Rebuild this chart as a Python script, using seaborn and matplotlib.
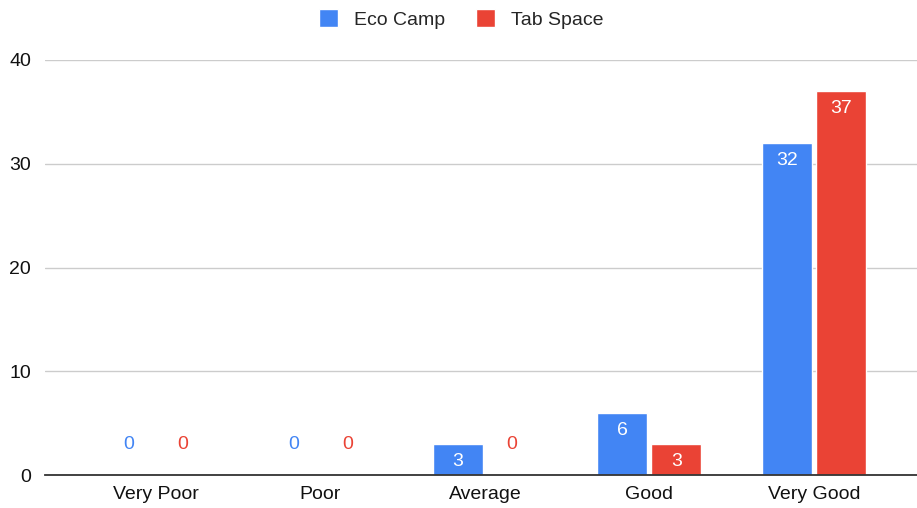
import matplotlib
matplotlib.use("Agg")
import matplotlib.pyplot as plt
import seaborn as sns
import pandas as pd

categories = ["Very Poor", "Poor", "Average", "Good", "Very Good"]
eco_camp = [0, 0, 3, 6, 32]
tab_space = [0, 0, 0, 3, 37]
series_names = ["Eco Camp", "Tab Space"]
colors = ["#4285F4", "#EA4335"]
y_ticks = [0, 10, 20, 30, 40]

df = pd.DataFrame({
    "category": categories * 2,
    "value": eco_camp + tab_space,
    "series": [series_names[0]] * len(categories) + [series_names[1]] * len(categories),
})

sns.set_style("white")
plt.rcParams["font.family"] = ["Liberation Sans", "DejaVu Sans"]

FS = 14

fig = plt.figure(figsize=(9.17, 5.08), dpi=100)
ax = fig.add_axes([45 / 917, 33 / 508, 1 - 45 / 917, (475 - 60) / 508])

sns.barplot(data=df, x="category", y="value", hue="series", order=categories,
            hue_order=series_names, palette=colors, width=0.656, gap=0.073,
            saturation=1, ax=ax, legend=True)

ax.set_ylim(0, 40)
ax.set_xlim(-0.676, 4.628)
ax.set_yticks(y_ticks)
ax.set_yticklabels([str(t) for t in y_ticks])
ax.yaxis.grid(True, color="#cccccc", linewidth=1)
ax.set_axisbelow(True)
for s in ["top", "right", "left"]:
    ax.spines[s].set_visible(False)
ax.spines["bottom"].set_color("#333333")
ax.spines["bottom"].set_linewidth(1.3)
ax.tick_params(axis="both", length=0, labelsize=FS, colors="#111111")
ax.tick_params(axis="y", pad=10)
ax.tick_params(axis="x", pad=8)
ax.set_xlabel("")
ax.set_ylabel("")

for cont, col in zip(ax.containers, colors):
    for bar in cont:
        h = bar.get_height()
        xc = bar.get_x() + bar.get_width() / 2
        if h == 0:
            ax.annotate("0", (xc, 0), xytext=(0, 22), textcoords="offset points",
                        ha="center", va="center", color=col, fontsize=FS)
        else:
            ax.annotate(f"{int(h)}", (xc, h), xytext=(0, -12.5), textcoords="offset points",
                        ha="center", va="center", color="white", fontsize=FS)

handles, labels = ax.get_legend_handles_labels()
ax.get_legend().remove()
fig.legend(handles, labels, loc="center", bbox_to_anchor=(461 / 917, 1 - 19 / 508),
           ncol=2, frameon=False, handlelength=1.0, handleheight=1.0,
           handletextpad=0.8, columnspacing=1.6, fontsize=FS)

fig.savefig("out.png", dpi=100)
